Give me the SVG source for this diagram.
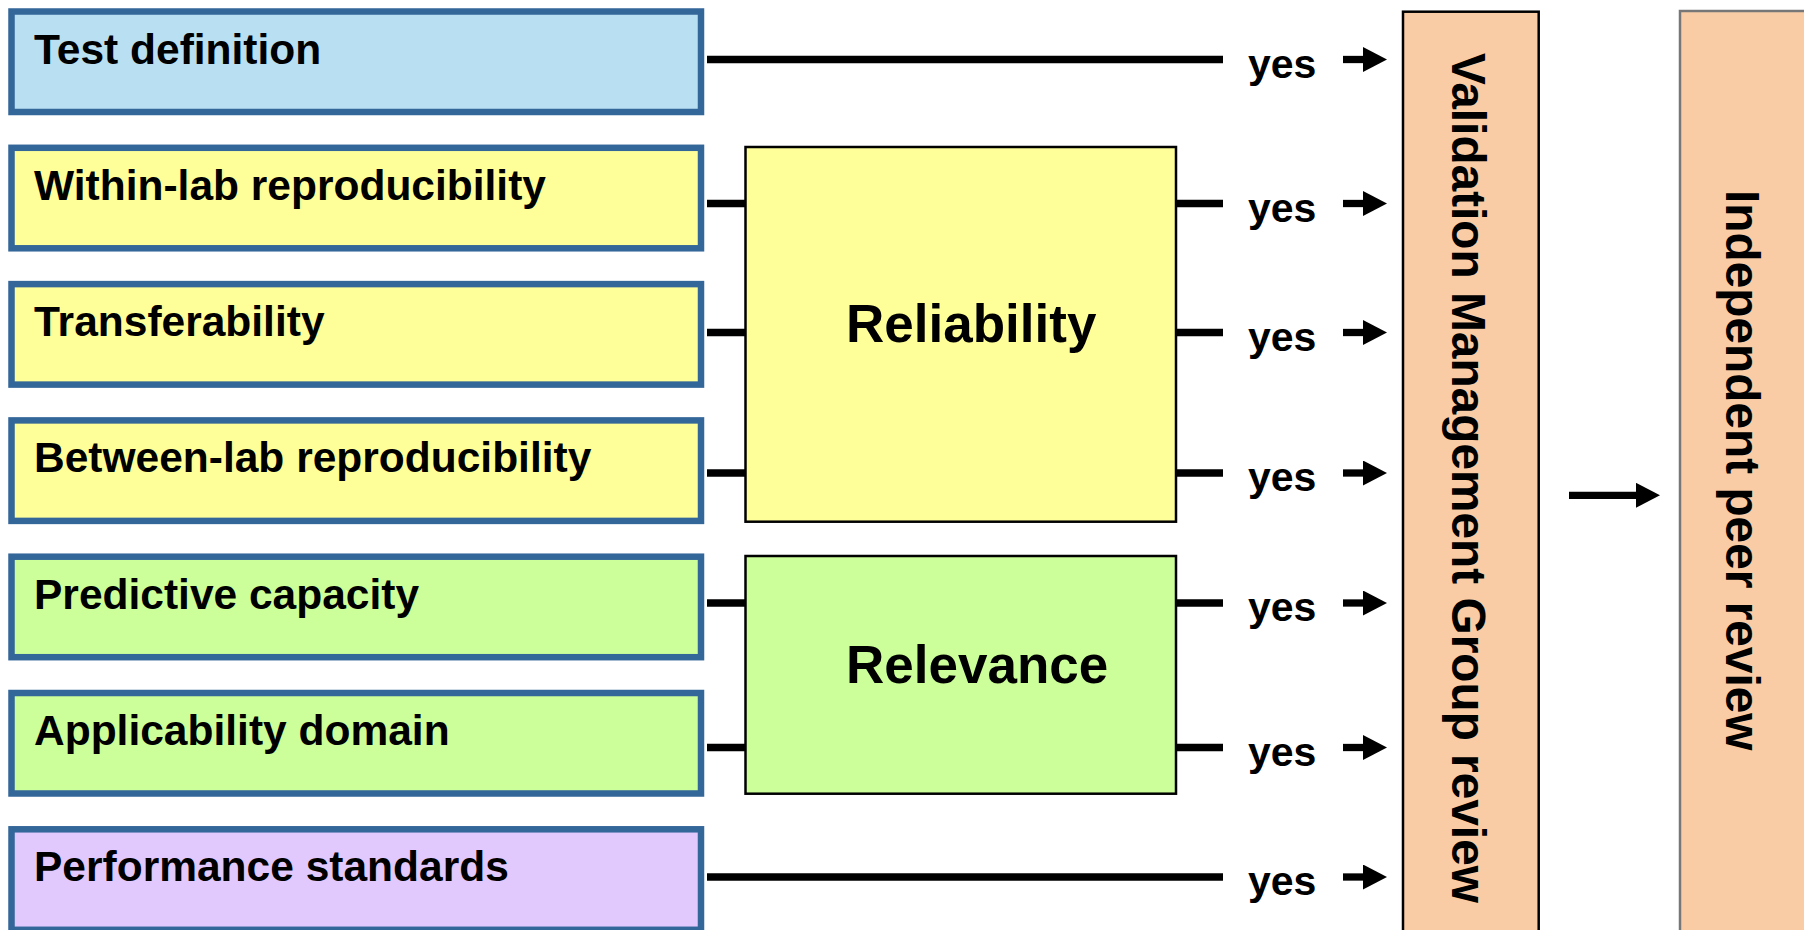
<svg xmlns="http://www.w3.org/2000/svg" width="1804" height="930" viewBox="0 0 1804 930">
  <style>
    text { font-family: "Liberation Sans", Arial, sans-serif; font-weight: bold; fill: #000; }
    .crit { stroke: #336699; stroke-width: 6.5; }
    .crit-text { font-size: 42.5px; }
    .agg { stroke: #000; stroke-width: 2.5; }
    .agg-text { font-size: 53px; }
    .review { fill: #f9cca6; stroke: #000; stroke-width: 2.5; }
    .review-text { font-size: 47.8px; }
    .yes { font-size: 41px; }
    .wire { stroke: #000; stroke-width: 7.5; fill: none; }
    .arrow { stroke: #000; stroke-width: 7.3; fill: none; marker-end: url(#head); }
  </style>
  <defs>
    <marker id="head" viewBox="0 0 24 25" markerWidth="24" markerHeight="25" refX="0" refY="12.5" markerUnits="userSpaceOnUse" orient="auto">
      <path d="M0,0 L24,12.5 L0,25 Z" fill="#000"/>
    </marker>
  </defs>
  <rect width="1804" height="930" fill="#fff"/>

  <g id="node-test-definition">
    <rect class="crit" x="11.5" y="11.5" width="689.5" height="100.5" fill="#b9dff3"/>
    <text class="crit-text" x="34" y="63.5">Test definition</text>
  </g>
  <g id="node-within-lab">
    <rect class="crit" x="11.5" y="147.8" width="689.5" height="100.5" fill="#ffff99"/>
    <text class="crit-text" x="34" y="199.8">Within-lab reproducibility</text>
  </g>
  <g id="node-transferability">
    <rect class="crit" x="11.5" y="284.1" width="689.5" height="100.5" fill="#ffff99"/>
    <text class="crit-text" x="34" y="336.1">Transferability</text>
  </g>
  <g id="node-between-lab">
    <rect class="crit" x="11.5" y="420.4" width="689.5" height="100.5" fill="#ffff99"/>
    <text class="crit-text" x="34" y="472.4">Between-lab reproducibility</text>
  </g>
  <g id="node-predictive">
    <rect class="crit" x="11.5" y="556.7" width="689.5" height="100.5" fill="#ccff99"/>
    <text class="crit-text" x="34" y="608.7">Predictive capacity</text>
  </g>
  <g id="node-applicability">
    <rect class="crit" x="11.5" y="693" width="689.5" height="100.5" fill="#ccff99"/>
    <text class="crit-text" x="34" y="745">Applicability domain</text>
  </g>
  <g id="node-performance">
    <rect class="crit" x="11.5" y="829.3" width="689.5" height="100.5" fill="#e1c9fd"/>
    <text class="crit-text" x="34" y="881.3">Performance standards</text>
  </g>

  <g id="node-reliability">
    <rect class="agg" x="745.5" y="147" width="430.5" height="374.7" fill="#ffff99"/>
    <text class="agg-text" x="846" y="342">Reliability</text>
  </g>
  <g id="node-relevance">
    <rect class="agg" x="745.5" y="556" width="430.5" height="237.7" fill="#ccff99"/>
    <text class="agg-text" x="846" y="682.7">Relevance</text>
  </g>

  <g id="node-vmg-review">
    <rect class="review" x="1403" y="11.7" width="135.7" height="930"/>
    <text class="review-text" transform="translate(1452,53) rotate(90)" x="0" y="0">Validation Management Group review</text>
  </g>
  <g id="node-peer-review">
    <rect class="review" x="1680" y="11" width="200" height="930" style="stroke:#777"/>
    <text class="review-text" transform="translate(1726,190) rotate(90)" x="0" y="0">Independent peer review</text>
  </g>

  <g id="connectors">
    <line class="wire" x1="707" y1="59.5" x2="1223" y2="59.5"/>
    <line class="wire" x1="707" y1="203.5" x2="745" y2="203.5"/>
    <line class="wire" x1="707" y1="332.5" x2="745" y2="332.5"/>
    <line class="wire" x1="707" y1="473" x2="745" y2="473"/>
    <line class="wire" x1="707" y1="603" x2="745" y2="603"/>
    <line class="wire" x1="707" y1="747.5" x2="745" y2="747.5"/>
    <line class="wire" x1="707" y1="877" x2="1223" y2="877"/>

    <line class="wire" x1="1177" y1="203.5" x2="1223" y2="203.5"/>
    <line class="wire" x1="1177" y1="332.5" x2="1223" y2="332.5"/>
    <line class="wire" x1="1177" y1="473" x2="1223" y2="473"/>
    <line class="wire" x1="1177" y1="603" x2="1223" y2="603"/>
    <line class="wire" x1="1177" y1="747.5" x2="1223" y2="747.5"/>

    <text class="yes" x="1248" y="77.5">yes</text>
    <text class="yes" x="1248" y="221.5">yes</text>
    <text class="yes" x="1248" y="350.5">yes</text>
    <text class="yes" x="1248" y="491">yes</text>
    <text class="yes" x="1248" y="621">yes</text>
    <text class="yes" x="1248" y="765.5">yes</text>
    <text class="yes" x="1248" y="895">yes</text>

    <line class="arrow" x1="1343" y1="59.5" x2="1363" y2="59.5"/>
    <line class="arrow" x1="1343" y1="203.5" x2="1363" y2="203.5"/>
    <line class="arrow" x1="1343" y1="332.5" x2="1363" y2="332.5"/>
    <line class="arrow" x1="1343" y1="473" x2="1363" y2="473"/>
    <line class="arrow" x1="1343" y1="603" x2="1363" y2="603"/>
    <line class="arrow" x1="1343" y1="747.5" x2="1363" y2="747.5"/>
    <line class="arrow" x1="1343" y1="877" x2="1363" y2="877"/>

    <line class="arrow" x1="1569" y1="495.3" x2="1636" y2="495.3"/>
  </g>
</svg>
